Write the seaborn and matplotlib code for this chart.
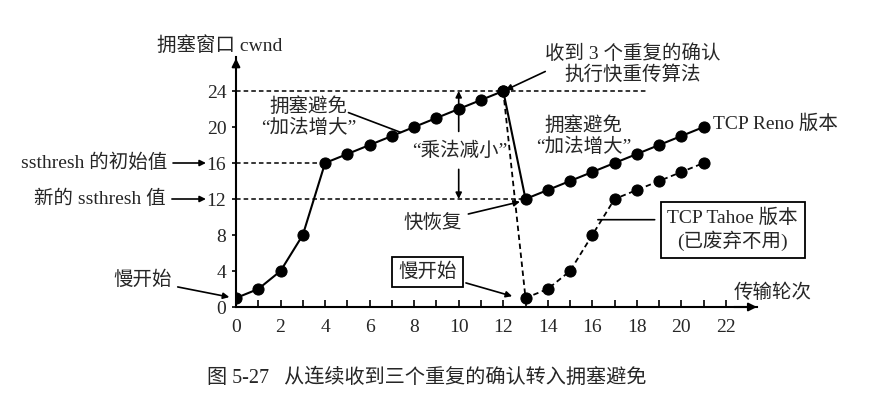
import matplotlib
matplotlib.use('Agg')
import matplotlib.pyplot as plt
import seaborn as sns
import numpy as np

# TCP congestion window per transmission round
rounds_reno = list(range(0, 22))
cwnd_reno = [1, 2, 4, 8, 16, 17, 18, 19, 20, 21, 22, 23, 24,
             12, 13, 14, 15, 16, 17, 18, 19, 20]
rounds_tahoe = list(range(12, 22))
cwnd_tahoe = [24, 1, 2, 4, 8, 12, 13, 14, 15, 16]

# dashed reference levels and where they stop
ref_levels = [24, 16, 12]
ref_ends = [18.4, 4, 13]

x_ticks = list(range(0, 23, 2))
y_ticks = [0, 4, 8, 12, 16, 20, 24]

sns.set_theme(style='white')
plt.rcParams['font.family'] = ['Liberation Serif', 'Noto Sans CJK SC']
plt.rcParams['axes.unicode_minus'] = False

fig = plt.figure(figsize=(8.8, 3.97), dpi=100)
xmax, ymax = 23.4, 27.8
ax = fig.add_axes([236 / 880, 90 / 397, xmax * 22.27 / 880, ymax * 9.0 / 397])
ax.set_xlim(0, xmax)
ax.set_ylim(0, ymax)

# reference dashed lines
for lvl, end in zip(ref_levels, ref_ends):
    ax.plot([0, end], [lvl, lvl], color='black', lw=1.1, ls=(0, (3, 2)), zorder=1)

# Tahoe (dashed) and Reno (solid)
sns.lineplot(x=rounds_tahoe, y=cwnd_tahoe, ax=ax, color='black', lw=1.3,
             linestyle=(0, (3, 2)), marker='o', markersize=8,
             markeredgecolor='black', estimator=None, sort=False, zorder=3)
sns.lineplot(x=rounds_reno, y=cwnd_reno, ax=ax, color='black', lw=1.5,
             marker='o', markersize=8, markeredgecolor='black',
             estimator=None, sort=False, zorder=4)

# axes styling
for s in ['top', 'right']:
    ax.spines[s].set_visible(False)
for s in ['left', 'bottom']:
    ax.spines[s].set_color('black')
    ax.spines[s].set_linewidth(1.5)
ax.set_xticks(x_ticks)
ax.set_xticks(range(0, 23), minor=True)
ax.set_yticks(y_ticks)
ax.tick_params(axis='x', which='both', direction='in', length=5, width=1.2,
               color='black', pad=9, labelsize=14, bottom=True)
ax.tick_params(axis='y', direction='out', length=3, width=1.2, color='black',
               pad=4, labelsize=14, left=True)
ax.grid(False)
ax.set_xlabel('')
ax.set_ylabel('')

# axis arrow heads
arr = dict(arrowstyle='-|>', color='black', lw=1.5, mutation_scale=12)
ax.annotate('', xy=(1.005, 0), xytext=(0.95, 0), xycoords='axes fraction',
            arrowprops=arr, annotation_clip=False)
ax.annotate('', xy=(0, 1.005), xytext=(0, 0.95), xycoords='axes fraction',
            arrowprops=arr, annotation_clip=False)

fs = 14
thin = dict(arrowstyle='-|>', color='black', lw=1.2, mutation_scale=9,
            shrinkA=2, shrinkB=0)
plain = dict(arrowstyle='-', color='black', lw=1.2, shrinkA=0, shrinkB=0)

ax.text(-0.72, 29.1, '拥塞窗口 cwnd', fontsize=fs, ha='center', va='center',
        clip_on=False)
ax.text(24.1, 1.55, '传输轮次', fontsize=fs, ha='center', va='center',
        clip_on=False)

ax.annotate('ssthresh 的初始值', xy=(-1.35, 16), xytext=(-3.1, 16),
            fontsize=fs, ha='right', va='center', arrowprops=thin,
            annotation_clip=False)
ax.annotate('新的 ssthresh 值', xy=(-1.35, 12), xytext=(-3.15, 12),
            fontsize=fs, ha='right', va='center', arrowprops=thin,
            annotation_clip=False)
ax.annotate('慢开始', xy=(-0.3, 1.1), xytext=(-4.2, 3.0), fontsize=fs,
            ha='center', va='center', arrowprops=thin, annotation_clip=False)

ax.text(3.25, 21.1, '拥塞避免\n“加法增大”', fontsize=fs, ha='center',
        va='center', linespacing=1.15)
ax.annotate('', xy=(7.4, 19.4), xytext=(5.05, 21.6), arrowprops=plain)

ax.text(17.8, 27.0, '收到 3 个重复的确认\n执行快重传算法', fontsize=fs,
        ha='center', va='center', linespacing=1.2, clip_on=False)
ax.annotate('', xy=(12.1, 24.1), xytext=(14.0, 26.3), arrowprops=thin)

ax.text(10.05, 17.4, '“乘法减小”', fontsize=fs, ha='center', va='center')
ax.annotate('', xy=(10, 24), xytext=(10, 19.2), arrowprops=thin)
ax.annotate('', xy=(10, 12), xytext=(10, 15.6), arrowprops=thin)

ax.text(15.6, 19.0, '拥塞避免\n“加法增大”', fontsize=fs, ha='center',
        va='center', linespacing=1.15)
ax.text(21.4, 20.4, 'TCP Reno 版本', fontsize=fs, ha='left', va='center',
        clip_on=False)

ax.annotate('快恢复', xy=(12.75, 11.7), xytext=(8.85, 9.4), fontsize=fs,
            ha='center', va='center', arrowprops=thin)
ax.annotate('慢开始', xy=(12.4, 1.2), xytext=(8.6, 3.9), fontsize=fs,
            ha='center', va='center', arrowprops=thin,
            bbox=dict(boxstyle='square,pad=0.3', fc='white', ec='black', lw=1.3))

ax.text(22.3, 8.6, 'TCP Tahoe 版本\n(已废弃不用)', fontsize=fs, ha='center',
        va='center', linespacing=1.2, clip_on=False,
        bbox=dict(boxstyle='square,pad=0.35', fc='white', ec='black', lw=1.3))
ax.annotate('', xy=(16.25, 9.7), xytext=(18.8, 9.7), arrowprops=plain)

fig.text(0.485, 0.048, '图 5-27   从连续收到三个重复的确认转入拥塞避免',
         fontsize=14.5, ha='center', va='center')

fig.savefig('out.png', dpi=100, facecolor='white')
